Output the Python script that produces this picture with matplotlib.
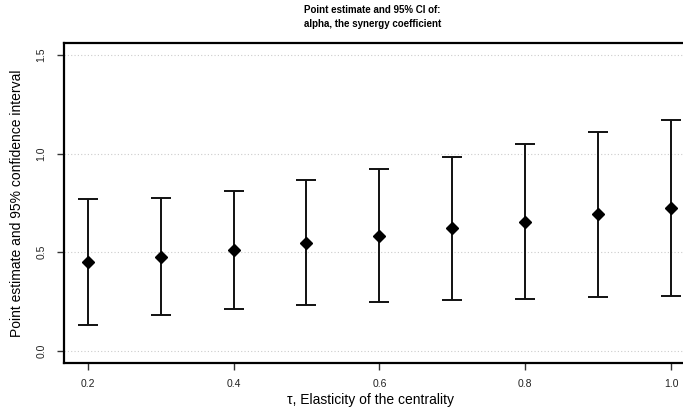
import matplotlib
matplotlib.use("Agg")
import matplotlib.pyplot as plt

plt.rcParams['font.family'] = ['Liberation Sans', 'DejaVu Sans']

tau = [0.2, 0.3, 0.4, 0.5, 0.6, 0.7, 0.8, 0.9, 1.0]
estimate = [0.451, 0.478, 0.510, 0.547, 0.584, 0.621, 0.655, 0.692, 0.726]
lower = [0.133, 0.183, 0.212, 0.231, 0.246, 0.258, 0.264, 0.273, 0.278]
upper = [0.769, 0.773, 0.812, 0.865, 0.922, 0.983, 1.047, 1.109, 1.173]
yticks = [0.0, 0.5, 1.0, 1.5]
xticks = [0.2, 0.4, 0.6, 0.8, 1.0]

fig = plt.figure(figsize=(6.83, 4.15), dpi=100)
ax = fig.add_axes([0.0941, 0.126, 0.9228, 0.7696])

for y in yticks:
    ax.axhline(y, color='#cccccc', linestyle=(0, (1, 2)), linewidth=0.8, zorder=0)

yerr = [[e - l for e, l in zip(estimate, lower)], [u - e for u, e in zip(upper, estimate)]]
ax.errorbar(tau, estimate, yerr=yerr, fmt='D', color='black', ecolor='#111111',
            elinewidth=1.4, capsize=7.5, capthick=1.4, markersize=5.8, zorder=3)

ax.set_xlim(0.168, 1.032)
ax.set_ylim(-0.06, 1.56)
ax.set_xticks(xticks)
ax.set_xticklabels([f"{v:.1f}" for v in xticks])
ax.set_yticks(yticks)
ax.set_yticklabels([f"{v:.1f}" for v in yticks], rotation=90, va='center')
ax.tick_params(axis='both', direction='out', length=5, width=1, color='#333333',
               labelsize=7.5, labelcolor='#222222')
ax.tick_params(axis='x', pad=7)
ax.tick_params(axis='y', pad=8)

for s in ['left', 'bottom', 'top']:
    ax.spines[s].set_linewidth(1.6)
    ax.spines[s].set_color('black')
ax.spines['right'].set_visible(False)

fig.text(0.545, 1 - 10 / 415, "Point estimate and 95% CI of:", ha='center', va='center',
         fontsize=7, fontweight='bold')
fig.text(0.545, 1 - 24 / 415, "alpha, the synergy coefficient", ha='center', va='center',
         fontsize=7, fontweight='bold')
fig.text(0.543, 1 - 400 / 415, "\u03c4, Elasticity of the centrality", ha='center', va='center',
         fontsize=10)
fig.text(17 / 683, 1 - 203 / 415, "Point estimate and 95% confidence interval", ha='center',
         va='center', rotation=90, fontsize=10)

fig.savefig("out.png", dpi=100)
